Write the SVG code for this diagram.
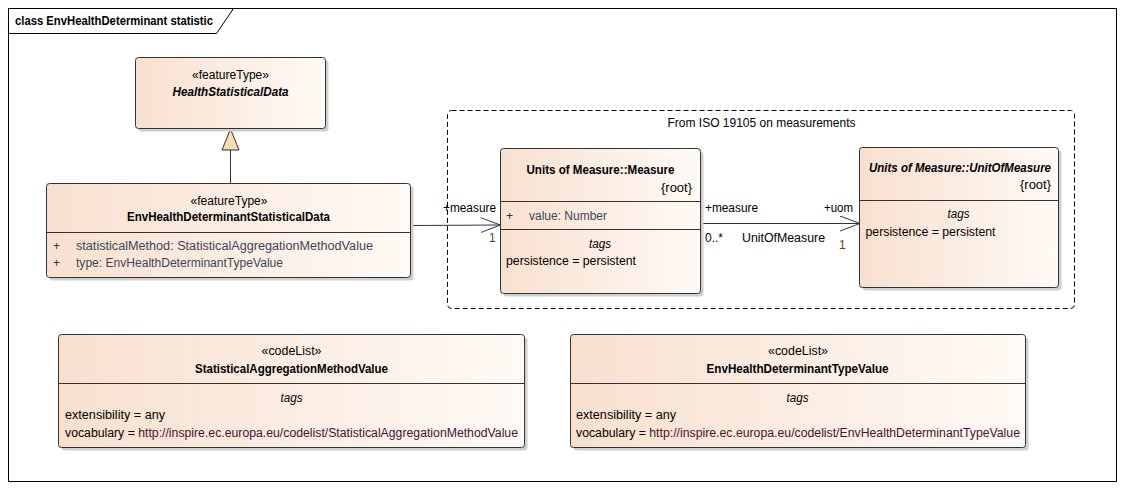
<svg xmlns="http://www.w3.org/2000/svg" width="1125" height="489" viewBox="0 0 1125 489">
<defs>
<linearGradient id="g" x1="0" y1="0" x2="1" y2="0">
<stop offset="0" stop-color="#f8e0cf"/>
<stop offset="1" stop-color="#fffaf6"/>
</linearGradient>
<marker id="open" markerWidth="22" markerHeight="18" refX="20" refY="8" orient="auto" markerUnits="userSpaceOnUse">
<polyline points="0,0.5 20,8 0,15.5" fill="none" stroke="#333" stroke-width="1"/>
</marker>
</defs>
<style>
text{font-family:"Liberation Sans",Arial,sans-serif;font-size:12px;fill:#000}
.b{font-weight:bold}
.bi{font-weight:bold;font-style:italic}
.i{font-style:italic}
.c{text-anchor:middle}
.r{text-anchor:end}
.attr{fill:#3b4656}
.plus{fill:#203a6a}
.mult{fill:#6e3c00}
.url{fill:#4a1030}
.box{fill:url(#g);stroke:#333;stroke-width:1}
.sh{fill:#cfcfcf}
.sep{stroke:#333;stroke-width:1}
.ln{stroke:#333;stroke-width:1;fill:none}
</style>
<rect x="0" y="0" width="1125" height="489" fill="#fff"/>
<g id="frame">
<rect x="8.5" y="8.5" width="1108" height="473" fill="none" stroke="#000" stroke-width="1"/>
<polyline points="8.5,33.5 216.5,33.5 232.5,10 232.5,8.5" fill="none" stroke="#000" stroke-width="1"/>
<text x="15" y="25" class="b" textLength="198" lengthAdjust="spacingAndGlyphs">class EnvHealthDeterminant statistic</text>
</g>
<g id="boundary">
<rect x="447.5" y="110.5" width="627" height="198" rx="4" fill="none" stroke="#000" stroke-width="1" stroke-dasharray="5,3"/>
<text x="761.5" y="127" class="c" textLength="188" lengthAdjust="spacingAndGlyphs">From ISO 19105 on measurements</text>
</g>
<g id="connectors">
<line x1="230.5" y1="150" x2="230.5" y2="183.5" class="ln"/>
<polygon points="230.5,129 222,150 239,150" fill="#f9dbb5" stroke="#333" stroke-width="1"/>
<line x1="411" y1="225.5" x2="500.5" y2="225" class="ln" marker-end="url(#open)"/>
<text x="443" y="212" textLength="53" lengthAdjust="spacingAndGlyphs">+measure</text>
<text x="489" y="242" class="mult">1</text>
<line x1="700.5" y1="223.5" x2="860" y2="223.5" class="ln" marker-end="url(#open)"/>
<text x="705" y="212" textLength="53" lengthAdjust="spacingAndGlyphs">+measure</text>
<text x="705" y="242" textLength="18" lengthAdjust="spacingAndGlyphs">0..*</text>
<text x="742" y="242" textLength="83" lengthAdjust="spacingAndGlyphs">UnitOfMeasure</text>
<text x="824" y="212" textLength="29" lengthAdjust="spacingAndGlyphs">+uom</text>
<text x="839" y="249" class="mult">1</text>
</g>
<g id="HealthStatisticalData">
<rect x="138.5" y="60.5" width="190" height="71" rx="3" class="sh"/>
<rect x="135.5" y="57.5" width="190" height="71" rx="3" class="box"/>
<text x="230.5" y="79" class="c" textLength="77" lengthAdjust="spacingAndGlyphs">«featureType»</text>
<text x="230.5" y="96" class="c bi" textLength="116" lengthAdjust="spacingAndGlyphs">HealthStatisticalData</text>
</g>
<g id="EnvHealthDeterminantStatisticalData">
<rect x="49.5" y="186.5" width="364" height="94" rx="3" class="sh"/>
<rect x="46.5" y="183.5" width="364" height="94" rx="3" class="box"/>
<line x1="46.5" y1="232.5" x2="410.5" y2="232.5" class="sep"/>
<text x="229" y="205" class="c" textLength="77" lengthAdjust="spacingAndGlyphs">«featureType»</text>
<text x="228.5" y="221" class="c b" textLength="203" lengthAdjust="spacingAndGlyphs">EnvHealthDeterminantStatisticalData</text>
<text x="53" y="250" class="plus">+</text>
<text x="76" y="250" class="attr" textLength="297" lengthAdjust="spacingAndGlyphs">statisticalMethod: StatisticalAggregationMethodValue</text>
<text x="53" y="267" class="plus">+</text>
<text x="76" y="267" class="attr" textLength="207" lengthAdjust="spacingAndGlyphs">type: EnvHealthDeterminantTypeValue</text>
</g>
<g id="Measure">
<rect x="503.5" y="151.5" width="200" height="145" rx="3" class="sh"/>
<rect x="500.5" y="148.5" width="200" height="145" rx="3" class="box"/>
<line x1="500.5" y1="201.5" x2="700.5" y2="201.5" class="sep"/>
<line x1="500.5" y1="229.5" x2="700.5" y2="229.5" class="sep"/>
<text x="600.5" y="173.5" class="c b" textLength="148" lengthAdjust="spacingAndGlyphs">Units of Measure::Measure</text>
<text x="692" y="191.5" class="r" textLength="31" lengthAdjust="spacingAndGlyphs">{root}</text>
<text x="506" y="220" class="plus">+</text>
<text x="529" y="220" class="attr" textLength="78" lengthAdjust="spacingAndGlyphs">value: Number</text>
<text x="600" y="248" class="c i" textLength="22" lengthAdjust="spacingAndGlyphs">tags</text>
<text x="506" y="265" textLength="130" lengthAdjust="spacingAndGlyphs">persistence = persistent</text>
</g>
<g id="UnitOfMeasure">
<rect x="862.5" y="150.5" width="199" height="140" rx="3" class="sh"/>
<rect x="859.5" y="147.5" width="199" height="140" rx="3" class="box"/>
<line x1="859.5" y1="200.5" x2="1058.5" y2="200.5" class="sep"/>
<text x="1051" y="172" class="r bi" textLength="182" lengthAdjust="spacingAndGlyphs">Units of Measure::UnitOfMeasure</text>
<text x="1051" y="189" class="r" textLength="31" lengthAdjust="spacingAndGlyphs">{root}</text>
<text x="958.5" y="218" class="c i" textLength="22" lengthAdjust="spacingAndGlyphs">tags</text>
<text x="865.5" y="236" textLength="130" lengthAdjust="spacingAndGlyphs">persistence = persistent</text>
</g>
<g id="StatisticalAggregationMethodValue">
<rect x="61.5" y="337.5" width="466" height="113" rx="3" class="sh"/>
<rect x="58.5" y="334.5" width="466" height="113" rx="3" class="box"/>
<line x1="58.5" y1="383.5" x2="524.5" y2="383.5" class="sep"/>
<text x="291.5" y="355" class="c" textLength="60" lengthAdjust="spacingAndGlyphs">«codeList»</text>
<text x="291.5" y="373" class="c b" textLength="193" lengthAdjust="spacingAndGlyphs">StatisticalAggregationMethodValue</text>
<text x="291.5" y="401.5" class="c i" textLength="22" lengthAdjust="spacingAndGlyphs">tags</text>
<text x="65" y="418.5" textLength="100" lengthAdjust="spacingAndGlyphs">extensibility = any</text>
<text x="65" y="436.5" textLength="453" lengthAdjust="spacingAndGlyphs">vocabulary = <tspan class="url">http://inspire.ec.europa.eu/codelist/StatisticalAggregationMethodValue</tspan></text>
</g>
<g id="EnvHealthDeterminantTypeValue">
<rect x="573.5" y="337.5" width="455" height="113" rx="3" class="sh"/>
<rect x="570.5" y="334.5" width="455" height="113" rx="3" class="box"/>
<line x1="570.5" y1="383.5" x2="1025.5" y2="383.5" class="sep"/>
<text x="798" y="355" class="c" textLength="60" lengthAdjust="spacingAndGlyphs">«codeList»</text>
<text x="797.5" y="373" class="c b" textLength="182" lengthAdjust="spacingAndGlyphs">EnvHealthDeterminantTypeValue</text>
<text x="797.5" y="401.5" class="c i" textLength="22" lengthAdjust="spacingAndGlyphs">tags</text>
<text x="576" y="418.5" textLength="100" lengthAdjust="spacingAndGlyphs">extensibility = any</text>
<text x="576" y="436.5" textLength="444" lengthAdjust="spacingAndGlyphs">vocabulary = <tspan class="url">http://inspire.ec.europa.eu/codelist/EnvHealthDeterminantTypeValue</tspan></text>
</g>
</svg>
